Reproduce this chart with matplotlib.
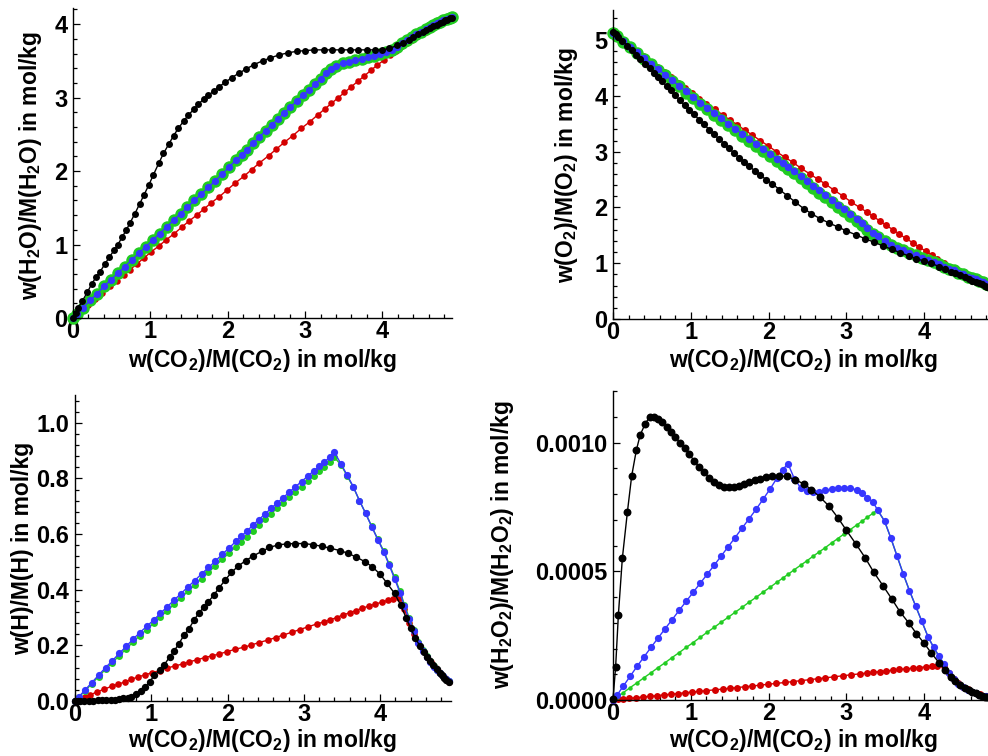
import matplotlib
matplotlib.use('Agg')
import matplotlib.pyplot as plt
from matplotlib.ticker import MultipleLocator, FormatStrFormatter

plt.rcParams['font.family'] = ['Liberation Sans', 'DejaVu Sans']
plt.rcParams['font.weight'] = 'bold'
plt.rcParams['mathtext.fontset'] = 'custom'
plt.rcParams['mathtext.rm'] = 'Liberation Sans:bold'
plt.rcParams['mathtext.it'] = 'Liberation Sans:bold'
plt.rcParams['mathtext.bf'] = 'Liberation Sans:bold'
plt.rcParams['mathtext.default'] = 'rm'

# ---------------- data ----------------
# x = w(CO2)/M(CO2) sample points of each series
K_X = [0, 0.034, 0.069, 0.12, 0.185, 0.24, 0.30, 0.35, 0.41, 0.47,
       0.53, 0.58, 0.635, 0.69, 0.74, 0.80, 0.86, 0.92, 0.98, 1.04,
       1.11, 1.17, 1.24, 1.30, 1.36, 1.43, 1.49, 1.56, 1.62, 1.69,
       1.75, 1.82, 1.89, 1.97, 2.05, 2.14, 2.24, 2.34, 2.45, 2.55,
       2.66, 2.78, 2.89, 3.0, 3.12, 3.24, 3.35, 3.47, 3.58, 3.69,
       3.80, 3.90, 4.0, 4.09, 4.19, 4.27, 4.34, 4.40, 4.46, 4.52,
       4.57, 4.62, 4.66, 4.70, 4.74, 4.78, 4.81, 4.84, 4.87, 4.9]
R_X = [0, 0.07, 0.13, 0.2, 0.29, 0.38, 0.48, 0.57, 0.66, 0.74,
       0.83, 0.92, 1.01, 1.11, 1.2, 1.31, 1.41, 1.5, 1.6, 1.7,
       1.79, 1.89, 1.99, 2.1, 2.21, 2.31, 2.41, 2.53, 2.63, 2.73,
       2.84, 2.95, 3.06, 3.17, 3.26, 3.34, 3.43, 3.51, 3.6, 3.68,
       3.76, 3.85, 3.93, 4.02, 4.1, 4.17, 4.25, 4.32, 4.38, 4.44,
       4.5, 4.56, 4.62, 4.67, 4.72, 4.77, 4.81, 4.85, 4.88, 4.9]
BG_X = [0, 0.05, 0.13, 0.22, 0.31, 0.40, 0.49, 0.58, 0.67, 0.76,
        0.85, 0.94, 1.03, 1.12, 1.21, 1.30, 1.39, 1.48, 1.57, 1.66,
        1.75, 1.84, 1.93, 2.02, 2.11, 2.18, 2.25, 2.33, 2.41, 2.49,
        2.57, 2.65, 2.73, 2.81, 2.89, 2.97, 3.05, 3.13, 3.2, 3.27,
        3.34, 3.4, 3.49, 3.57, 3.65, 3.73, 3.81, 3.89, 3.97, 4.05,
        4.12, 4.19, 4.26, 4.32, 4.38, 4.44, 4.5, 4.56, 4.61, 4.66,
        4.71, 4.75, 4.79, 4.83, 4.87, 4.9]

# ---- H2O ----
H2O_red = [0, 0.06, 0.11, 0.18, 0.26, 0.34, 0.43, 0.51, 0.59, 0.66,
           0.74, 0.82, 0.9, 0.98, 1.06, 1.15, 1.24, 1.32, 1.4, 1.49,
           1.57, 1.65, 1.74, 1.84, 1.93, 2.02, 2.11, 2.21, 2.3, 2.39,
           2.48, 2.58, 2.67, 2.77, 2.85, 2.92, 3.0, 3.07, 3.15, 3.22,
           3.29, 3.37, 3.44, 3.51, 3.58, 3.64, 3.7, 3.75, 3.79, 3.83,
           3.87, 3.9, 3.93, 3.96, 3.99, 4.02, 4.04, 4.06, 4.08, 4.09]
H2O_green = [0, 0.05, 0.14, 0.24, 0.33, 0.43, 0.52, 0.61, 0.7, 0.79,
             0.88, 0.97, 1.06, 1.15, 1.24, 1.33, 1.42, 1.51, 1.6, 1.69,
             1.78, 1.87, 1.96, 2.06, 2.15, 2.22, 2.29, 2.38, 2.46, 2.55,
             2.63, 2.71, 2.79, 2.87, 2.95, 3.03, 3.1, 3.18, 3.26, 3.33,
             3.39, 3.43, 3.47, 3.49, 3.51, 3.53, 3.55, 3.57, 3.6, 3.62,
             3.65, 3.69, 3.74, 3.78, 3.82, 3.86, 3.89, 3.93, 3.96, 3.99,
             4.01, 4.03, 4.05, 4.07, 4.09, 4.1]
H2O_blue = [0, 0.05, 0.14, 0.24, 0.33, 0.43, 0.52, 0.61, 0.7, 0.79,
            0.88, 0.97, 1.06, 1.15, 1.24, 1.33, 1.42, 1.51, 1.6, 1.69,
            1.78, 1.87, 1.96, 2.06, 2.15, 2.22, 2.29, 2.38, 2.46, 2.55,
            2.63, 2.71, 2.79, 2.87, 2.95, 3.03, 3.1, 3.18, 3.26, 3.33,
            3.39, 3.43, 3.47, 3.49, 3.51, 3.53, 3.55, 3.57, 3.6, 3.62,
            3.65, 3.69, 3.74, 3.78, 3.82, 3.86, 3.89, 3.93, 3.96, 3.99,
            4.01, 4.03, 4.05, 4.07, 4.09, 4.1]
H2O_black = [0, 0.07, 0.14, 0.23, 0.35, 0.46, 0.56, 0.63, 0.73, 0.83,
             0.92, 1.0, 1.1, 1.2, 1.3, 1.42, 1.55, 1.68, 1.81, 1.95,
             2.11, 2.24, 2.37, 2.48, 2.58, 2.68, 2.76, 2.84, 2.91, 2.98,
             3.03, 3.09, 3.15, 3.21, 3.27, 3.33, 3.39, 3.45, 3.5, 3.54,
             3.58, 3.61, 3.63, 3.64, 3.65, 3.65, 3.65, 3.65, 3.65, 3.65,
             3.65, 3.65, 3.65, 3.67, 3.71, 3.75, 3.79, 3.82, 3.86, 3.89,
             3.92, 3.95, 3.97, 3.99, 4.01, 4.03, 4.05, 4.06, 4.08, 4.09]

# ---- O2 ----
O2_red = [5.12, 5.04, 4.98, 4.9, 4.81, 4.72, 4.61, 4.52, 4.42, 4.34,
          4.24, 4.14, 4.05, 3.95, 3.86, 3.76, 3.66, 3.57, 3.48, 3.38,
          3.3, 3.2, 3.11, 3.0, 2.9, 2.81, 2.71, 2.6, 2.51, 2.42,
          2.31, 2.21, 2.1, 2.0, 1.92, 1.84, 1.76, 1.68, 1.6, 1.52,
          1.45, 1.37, 1.29, 1.22, 1.15, 1.08, 1.01, 0.9, 0.85, 0.81,
          0.77, 0.74, 0.71, 0.68, 0.65, 0.62, 0.6, 0.58, 0.56, 0.55]
O2_green = [5.12, 5.07, 4.97, 4.87, 4.77, 4.67, 4.57, 4.47, 4.37, 4.27,
            4.17, 4.06, 3.96, 3.86, 3.76, 3.66, 3.57, 3.47, 3.38, 3.28,
            3.19, 3.1, 3.01, 2.92, 2.83, 2.76, 2.69, 2.61, 2.52, 2.44,
            2.35, 2.26, 2.18, 2.09, 2.01, 1.93, 1.85, 1.76, 1.68, 1.6,
            1.52, 1.47, 1.39, 1.33, 1.27, 1.23, 1.18, 1.14, 1.1, 1.06,
            1.02, 0.98, 0.94, 0.9, 0.87, 0.83, 0.8, 0.76, 0.73, 0.71,
            0.68, 0.66, 0.63, 0.61, 0.59, 0.57]
O2_blue = [5.12, 5.07, 4.98, 4.88, 4.78, 4.68, 4.58, 4.48, 4.38, 4.28,
           4.18, 4.08, 3.98, 3.88, 3.79, 3.69, 3.6, 3.5, 3.41, 3.32,
           3.23, 3.14, 3.05, 2.96, 2.87, 2.8, 2.73, 2.65, 2.56, 2.48,
           2.39, 2.31, 2.22, 2.13, 2.05, 1.97, 1.89, 1.8, 1.72, 1.63,
           1.54, 1.48, 1.39, 1.33, 1.27, 1.23, 1.18, 1.14, 1.1, 1.06,
           1.02, 0.98, 0.94, 0.9, 0.87, 0.83, 0.8, 0.76, 0.73, 0.71,
           0.68, 0.66, 0.63, 0.61, 0.59, 0.57]
O2_black = [5.15, 5.11, 5.06, 4.99, 4.9, 4.82, 4.74, 4.67, 4.58, 4.5,
            4.41, 4.34, 4.26, 4.17, 4.1, 4.01, 3.92, 3.83, 3.75, 3.67,
            3.57, 3.49, 3.39, 3.31, 3.23, 3.14, 3.06, 2.97, 2.89, 2.81,
            2.74, 2.66, 2.58, 2.5, 2.42, 2.32, 2.21, 2.1, 1.98, 1.89,
            1.8, 1.72, 1.65, 1.58, 1.51, 1.44, 1.38, 1.31, 1.25, 1.19,
            1.13, 1.08, 1.04, 1.0, 0.94, 0.89, 0.85, 0.82, 0.78, 0.75,
            0.72, 0.69, 0.66, 0.64, 0.62, 0.6, 0.57, 0.56, 0.54, 0.53]

# ---- H ----
H_red = [0, 0.007, 0.013, 0.022, 0.033, 0.042, 0.053, 0.061, 0.069, 0.078,
         0.087, 0.094, 0.102, 0.109, 0.118, 0.126, 0.133, 0.141, 0.148, 0.156,
         0.162, 0.169, 0.177, 0.186, 0.193, 0.201, 0.21, 0.219, 0.228, 0.237,
         0.247, 0.257, 0.267, 0.277, 0.284, 0.291, 0.3, 0.309, 0.317, 0.325,
         0.333, 0.341, 0.348, 0.355, 0.362, 0.368, 0.372, 0.33, 0.28, 0.24,
         0.207, 0.181, 0.158, 0.14, 0.122, 0.106, 0.094, 0.082, 0.074, 0.069]
H_green = [0, 0.014, 0.036, 0.062, 0.088, 0.114, 0.138, 0.163, 0.187, 0.212,
           0.235, 0.257, 0.279, 0.302, 0.325, 0.348, 0.371, 0.394, 0.417, 0.44,
           0.463, 0.486, 0.509, 0.532, 0.555, 0.573, 0.591, 0.612, 0.633, 0.653,
           0.673, 0.693, 0.713, 0.733, 0.752, 0.771, 0.79, 0.809, 0.826, 0.842,
           0.858, 0.876, 0.848, 0.808, 0.768, 0.72, 0.675, 0.628, 0.582, 0.538,
           0.492, 0.445, 0.396, 0.346, 0.3, 0.256, 0.213, 0.182, 0.16, 0.142,
           0.125, 0.112, 0.101, 0.091, 0.08, 0.073]
H_blue = [0, 0.015, 0.039, 0.066, 0.093, 0.12, 0.145, 0.171, 0.196, 0.222,
          0.246, 0.268, 0.291, 0.315, 0.339, 0.363, 0.386, 0.41, 0.433, 0.457,
          0.48, 0.503, 0.527, 0.55, 0.574, 0.592, 0.61, 0.631, 0.652, 0.672,
          0.692, 0.712, 0.731, 0.751, 0.77, 0.789, 0.808, 0.827, 0.843, 0.86,
          0.876, 0.895, 0.851, 0.811, 0.77, 0.72, 0.675, 0.627, 0.58, 0.535,
          0.488, 0.44, 0.39, 0.34, 0.295, 0.252, 0.21, 0.18, 0.158, 0.141,
          0.124, 0.111, 0.1, 0.09, 0.079, 0.072]
H_black = [0, 0, 0, 0.0005, 0.001, 0.001, 0.002, 0.002, 0.003, 0.004,
           0.005, 0.007, 0.009, 0.012, 0.016, 0.024, 0.035, 0.05, 0.07, 0.092,
           0.11, 0.13, 0.158, 0.18, 0.205, 0.237, 0.258, 0.29, 0.315, 0.338,
           0.357, 0.381, 0.407, 0.435, 0.462, 0.485, 0.505, 0.522, 0.538, 0.552,
           0.561, 0.565, 0.566, 0.566, 0.562, 0.556, 0.549, 0.541, 0.531, 0.517,
           0.501, 0.482, 0.456, 0.424, 0.387, 0.345, 0.3, 0.262, 0.228, 0.198,
           0.177, 0.158, 0.143, 0.128, 0.114, 0.102, 0.092, 0.083, 0.075, 0.068]

# ---- H2O2 ----
H2O2_red = [0, 0.2e-5, 0.4e-5, 0.6e-5, 0.9e-5, 1.15e-5, 1.45e-5, 1.72e-5, 2.0e-5, 2.25e-5,
            2.5e-5, 2.8e-5, 3.05e-5, 3.35e-5, 3.65e-5, 3.95e-5, 4.25e-5, 4.55e-5, 4.85e-5, 5.15e-5,
            5.45e-5, 5.75e-5, 6.1e-5, 6.45e-5, 6.8e-5, 7.15e-5, 7.5e-5, 7.9e-5, 8.25e-5, 8.6e-5,
            9.0e-5, 9.4e-5, 9.8e-5, 10.15e-5, 10.45e-5, 10.75e-5, 11.05e-5, 11.3e-5, 11.6e-5, 11.85e-5,
            12.1e-5, 12.35e-5, 12.6e-5, 12.85e-5, 13.05e-5, 13.2e-5, 13.3e-5, 10.5e-5, 8.0e-5, 6.5e-5,
            5.2e-5, 4.2e-5, 3.3e-5, 2.7e-5, 2.2e-5, 1.7e-5, 1.4e-5, 1.1e-5, 0.9e-5, 0.8e-5]
H2O2_green = [0, 1.1e-5, 2.8e-5, 4.8e-5, 6.7e-5, 8.7e-5, 10.6e-5, 12.6e-5, 14.5e-5, 16.5e-5,
              18.4e-5, 20.4e-5, 22.3e-5, 24.3e-5, 26.3e-5, 28.2e-5, 30.2e-5, 32.1e-5, 34.1e-5, 36.0e-5,
              38.0e-5, 39.9e-5, 41.9e-5, 43.8e-5, 45.8e-5, 47.3e-5, 48.8e-5, 50.6e-5, 52.3e-5, 54.0e-5,
              55.8e-5, 57.5e-5, 59.2e-5, 61.0e-5, 62.7e-5, 64.5e-5, 66.2e-5, 67.9e-5, 69.4e-5, 71.0e-5,
              72.5e-5, 73.8e-5, 69.5e-5, 63.0e-5, 56.0e-5, 49.0e-5, 42.5e-5, 36.5e-5, 30.5e-5, 24.5e-5,
              20.5e-5, 17.0e-5, 13.8e-5, 10.5e-5, 8.0e-5, 6.2e-5, 4.9e-5, 3.9e-5, 3.2e-5, 2.6e-5,
              2.1e-5, 1.7e-5, 1.4e-5, 1.1e-5, 0.9e-5, 0.8e-5]
H2O2_blue = [0, 1.8e-5, 5.3e-5, 9.2e-5, 13.1e-5, 16.8e-5, 20.5e-5, 24.1e-5, 27.7e-5, 31.2e-5,
             34.8e-5, 38.3e-5, 41.8e-5, 45.3e-5, 48.8e-5, 52.3e-5, 55.9e-5, 59.5e-5, 63.1e-5, 66.8e-5,
             70.4e-5, 74.1e-5, 78.0e-5, 82.0e-5, 86.3e-5, 89.5e-5, 91.7e-5, 86.0e-5, 82.5e-5, 81.0e-5,
             80.7e-5, 80.9e-5, 81.4e-5, 81.9e-5, 82.3e-5, 82.4e-5, 82.3e-5, 81.6e-5, 80.4e-5, 78.5e-5,
             77.0e-5, 73.8e-5, 69.5e-5, 63.0e-5, 56.0e-5, 49.0e-5, 42.5e-5, 36.5e-5, 30.5e-5, 24.5e-5,
             20.5e-5, 17.0e-5, 13.8e-5, 10.5e-5, 8.0e-5, 6.2e-5, 4.9e-5, 3.9e-5, 3.2e-5, 2.6e-5,
             2.1e-5, 1.7e-5, 1.4e-5, 1.1e-5, 0.9e-5, 0.8e-5]
H2O2_black = [0.2e-5, 13e-5, 33e-5, 55e-5, 73e-5, 87e-5, 97e-5, 103e-5, 107e-5, 110e-5,
              110e-5, 109e-5, 108e-5, 106e-5, 104e-5, 102e-5, 100e-5, 98e-5, 95.5e-5, 93e-5,
              90.5e-5, 88.5e-5, 86.3e-5, 84.8e-5, 83.6e-5, 82.9e-5, 82.7e-5, 82.7e-5, 83.1e-5, 83.7e-5,
              84.6e-5, 85.3e-5, 85.9e-5, 86.5e-5, 86.8e-5, 87.0e-5, 86.8e-5, 85.5e-5, 84.0e-5, 81.7e-5,
              78.8e-5, 75.2e-5, 70.8e-5, 65.9e-5, 60.7e-5, 55.3e-5, 49.7e-5, 44.4e-5, 39.4e-5, 34.2e-5,
              30.0e-5, 25.8e-5, 22.0e-5, 18.3e-5, 14.5e-5, 11.6e-5, 8.8e-5, 7.2e-5, 5.8e-5, 4.7e-5,
              3.9e-5, 3.1e-5, 2.6e-5, 2.0e-5, 1.6e-5, 1.3e-5, 1.0e-5, 0.8e-5, 0.7e-5, 0.6e-5]

X_TICKS = [0, 1, 2, 3, 4]
XLABEL = r'w(CO$_2$)/M(CO$_2$) in mol/kg'

RED = '#d40000'
GREEN = '#22cc22'
BLUE = '#3636ff'
BLACK = '#000000'

W, H = 988, 756
fig = plt.figure(figsize=(W / 100, H / 100), dpi=100)


def rect(l, r, t, b):
    return [l / W, (H - b) / H, (r - l) / W, (b - t) / H]


panels = [
    dict(rect=rect(73, 452, 8, 318), xlim=(0, 4.9), ylim=(0, 4.22), ymaj=1, ymin=0.2, fmt='%d',
         ylabel=r'w(H$_2$O)/M(H$_2$O) in mol/kg', ylab_xy=(31, 165), xlab_xy=(263, 360),
         data=[(R_X, H2O_red, RED, 4.7), (BG_X, H2O_green, GREEN, 9.0),
               (BG_X, H2O_blue, BLUE, 5.2), (K_X, H2O_black, BLACK, 5.0)]),
    dict(rect=rect(613, 988, 10, 319), xlim=(0, 4.82), ylim=(0, 5.54), ymaj=1, ymin=0.2, fmt='%d',
         ylabel=r'w(O$_2$)/M(O$_2$) in mol/kg', ylab_xy=(567, 165), xlab_xy=(804, 360),
         data=[(R_X, O2_red, RED, 5.0), (BG_X, O2_green, GREEN, 9.0),
               (BG_X, O2_blue, BLUE, 5.4), (K_X, O2_black, BLACK, 5.2)]),
    dict(rect=rect(75, 451, 395, 701), xlim=(0, 4.93), ylim=(0, 1.1), ymaj=0.2, ymin=0.04, fmt='%.1f',
         ylabel=r'w(H)/M(H) in mol/kg', ylab_xy=(23, 548), xlab_xy=(263, 741),
         data=[(R_X, H_red, RED, 4.8), (BG_X, H_green, GREEN, 5.0),
               (BG_X, H_blue, BLUE, 5.2), (K_X, H_black, BLACK, 5.3)]),
    dict(rect=rect(613, 988, 391, 700), xlim=(0, 4.82), ylim=(0, 0.0012), ymaj=0.0005, ymin=0.0001,
         fmt='%.4f',
         ylabel=r'w(H$_2$O$_2$)/M(H$_2$O$_2$) in mol/kg', ylab_xy=(503, 545), xlab_xy=(804, 741),
         data=[(R_X, H2O2_red, RED, 5.0), (BG_X, H2O2_green, GREEN, 3.2),
               (BG_X, H2O2_blue, BLUE, 5.2), (K_X, H2O2_black, BLACK, 5.7)]),
]

TICK_FS = 17
LABEL_FS = 16.5
for p in panels:
    ax = fig.add_axes(p['rect'])
    for xs, ys, c, ms in p['data']:
        ax.plot(xs, ys, '-', color=c, lw=1.0, marker='o', ms=ms, mew=0, clip_on=False)
    ax.set_xlim(*p['xlim'])
    ax.set_ylim(*p['ylim'])
    for s in ('top', 'right'):
        ax.spines[s].set_visible(False)
    for s in ('left', 'bottom'):
        ax.spines[s].set_linewidth(1.0)
    ax.set_xticks(X_TICKS)
    ax.xaxis.set_minor_locator(MultipleLocator(0.2))
    ax.yaxis.set_major_locator(MultipleLocator(p['ymaj']))
    ax.yaxis.set_minor_locator(MultipleLocator(p['ymin']))
    ax.yaxis.set_major_formatter(FormatStrFormatter(p['fmt']))
    ax.xaxis.set_major_formatter(FormatStrFormatter('%d'))
    ax.tick_params(which='both', direction='in', width=0.9, top=False, right=False,
                   labelsize=TICK_FS)
    ax.tick_params(which='major', length=5)
    ax.tick_params(which='minor', length=3)
    ax.tick_params(axis='x', pad=1.5)
    ax.tick_params(axis='y', pad=4)
    for lab in ax.get_xticklabels() + ax.get_yticklabels():
        lab.set_fontweight('bold')
    fig.text(p['xlab_xy'][0] / W, 1 - p['xlab_xy'][1] / H, XLABEL, ha='center', va='center',
             fontsize=LABEL_FS, fontweight='bold')
    fig.text(p['ylab_xy'][0] / W, 1 - p['ylab_xy'][1] / H, p['ylabel'], ha='center', va='center',
             rotation=90, fontsize=LABEL_FS, fontweight='bold')

fig.savefig('out.png', dpi=100)
